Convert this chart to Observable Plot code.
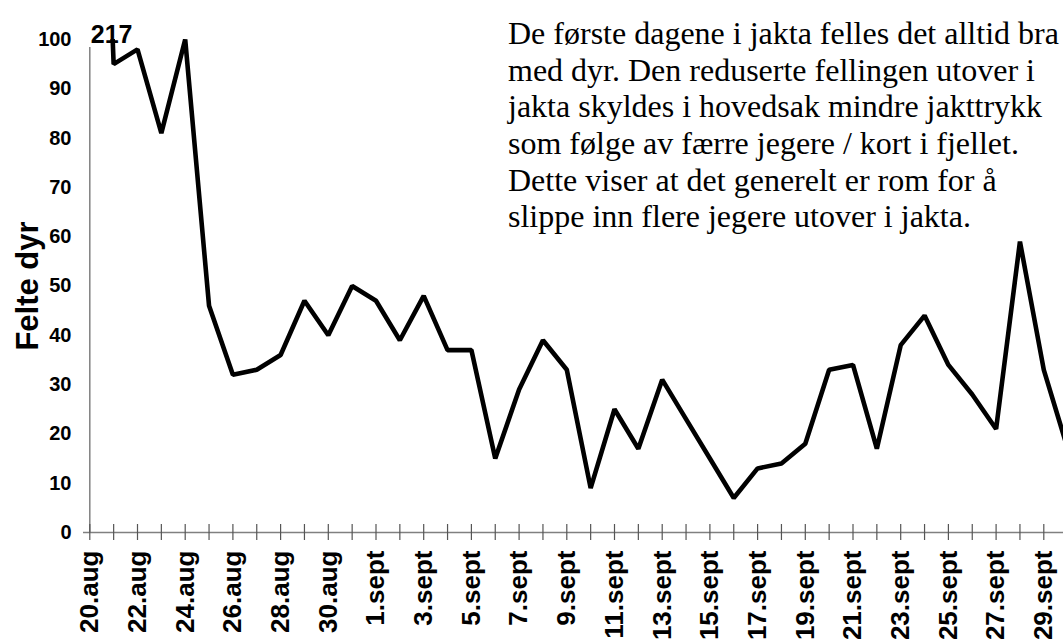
<!DOCTYPE html>
<html>
<head>
<meta charset="utf-8">
<script src="https://cdn.jsdelivr.net/npm/d3@7"></script>
<script src="https://cdn.jsdelivr.net/npm/@observablehq/plot@0.6"></script>
<style>
  html, body { margin: 0; padding: 0; background: #fff; overflow: hidden; }
  #chart svg { display: block; }
</style>
</head>
<body>
<div id="chart"></div>
<script>
// Categories: hunting days
const dates = [
  "20.aug","21.aug","22.aug","23.aug","24.aug","25.aug","26.aug","27.aug","28.aug","29.aug","30.aug","31.aug",
  "1.sept","2.sept","3.sept","4.sept","5.sept","6.sept","7.sept","8.sept","9.sept","10.sept",
  "11.sept","12.sept","13.sept","14.sept","15.sept","16.sept","17.sept","18.sept","19.sept","20.sept",
  "21.sept","22.sept","23.sept","24.sept","25.sept","26.sept","27.sept","28.sept","29.sept","30.sept"
];
// Series: felte dyr per day
const felte = [
  217, 95, 98, 81, 100, 46, 32, 33, 36, 47, 40, 50,
  47, 39, 48, 37, 37, 15, 29, 39, 33, 9,
  25, 17, 31, 23, 15, 7, 13, 14, 18, 33,
  34, 17, 38, 44, 34, 28, 21, 59, 33, 17
];
// Tick labels
const labelDates = dates.filter((d, i) => i % 2 === 0);
const yTicks = [0, 10, 20, 30, 40, 50, 60, 70, 80, 90, 100];
const yLabel = "Felte dyr";
const note = [
  "De første dagene i jakta felles det alltid bra",
  "med dyr. Den reduserte fellingen utover i",
  "jakta skyldes i hovedsak mindre jakttrykk",
  "som følge av færre jegere / kort i fjellet.",
  "Dette viser at det generelt er rom for å",
  "slippe inn flere jegere utover i jakta."
];

const data = dates.map((d, i) => ({date: d, felte: felte[i]}));
const yMax = 100;

const axisColor = "#808080";
const tickColor = "#555";
const sans = "Liberation Sans, Arial, sans-serif";

const chart = Plot.plot({
  width: 1063,
  height: 640,
  marginLeft: 89,
  marginRight: 0,
  marginTop: 39,
  marginBottom: 108,
  style: {background: "#fff", color: "#000"},
  x: {type: "point", domain: dates, padding: 0, range: [89.3, 89.3 + 23.85 * (dates.length - 1)]},
  y: {domain: [0, yMax]},
  marks: [
    // axis lines
    Plot.ruleX([dates[0]], {x: d => d, y1: 0, y2: yMax, stroke: axisColor, strokeWidth: 1.5, insetBottom: -8}),
    Plot.ruleY([0], {stroke: axisColor, strokeWidth: 1.5, insetLeft: -6}),
    // y tick marks crossing the axis
    Plot.ruleY(yTicks, {y: d => d, x1: dates[0], x2: dates[0], insetLeft: -6, insetRight: -6, stroke: tickColor, strokeWidth: 1.2}),
    // x tick marks crossing the axis
    Plot.ruleX(dates, {x: d => d, y1: 0, y2: 0, insetTop: -8, insetBottom: -8, stroke: tickColor, strokeWidth: 1.2}),
    // y tick labels
    Plot.axisY({
      ticks: yTicks, tickSize: 0, tickPadding: 18, label: null,
      fontSize: 20, fontWeight: "bold", fontFamily: sans
    }),
    // x tick labels
    Plot.axisX({
      ticks: labelDates, tickSize: 0, tickPadding: 18, tickRotate: -90, label: null,
      fontSize: 26, fontWeight: "bold", fontFamily: sans
    }),
    // y axis title
    Plot.text([yLabel], {
      frameAnchor: "left", textAnchor: "middle", dx: -61, dy: 0, rotate: -90,
      fontSize: 31, fontWeight: "bold", fontFamily: sans, fill: "#000"
    }),
    // data line
    Plot.line(data, {
      x: "date", y: "felte", stroke: "#000", strokeWidth: 4.6,
      strokeLinejoin: "miter", strokeLinecap: "butt", clip: true
    }),
    // label for the off-scale value
    Plot.text(data.filter(d => d.felte > yMax), {
      x: "date", text: d => String(d.felte), frameAnchor: "top", textAnchor: "start",
      dy: -14, dx: 1, fontSize: 25, fontWeight: "bold", fontFamily: sans, fill: "#000"
    }),
    // annotation
    Plot.text([note.join("\n")], {
      frameAnchor: "top-left", textAnchor: "start", lineAnchor: "top", lineHeight: 1.145,
      dx: 418.5, dy: -21.5, fontSize: 32, fontFamily: "Liberation Serif, Times New Roman, serif", fill: "#000"
    })
  ]
});

document.getElementById("chart").append(chart);
</script>
</body>
</html>
